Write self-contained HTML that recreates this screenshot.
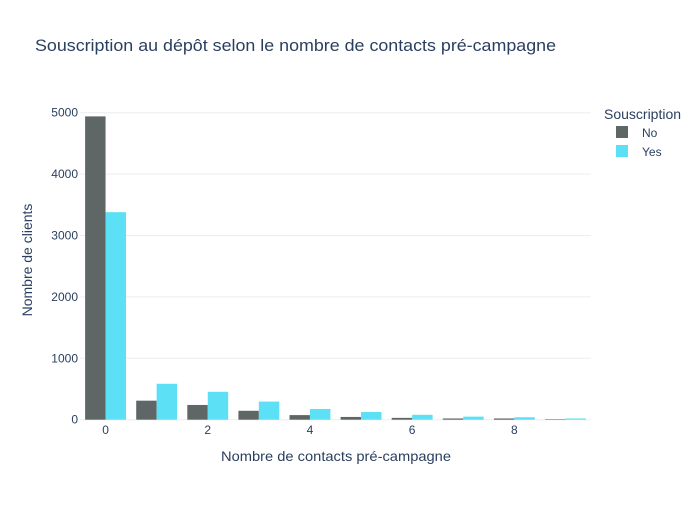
<!DOCTYPE html>
<html><head><meta charset="utf-8"><style>
body{margin:0;background:#fff;}
svg text{font-family:"Liberation Sans",sans-serif;fill:#2a3f5f;}
</style></head><body>
<svg id="chart" width="700" height="500">
<text x="35" y="51" font-size="17" textLength="521" lengthAdjust="spacingAndGlyphs">Souscription au dépôt selon le nombre de contacts pré-campagne</text>
<g id="grid"></g><g id="bars"></g><g id="axes"></g>
<text x="336" y="461" font-size="14" text-anchor="middle" textLength="230" lengthAdjust="spacingAndGlyphs">Nombre de contacts pré-campagne</text>
<text transform="translate(32,260) rotate(-90)" font-size="14" text-anchor="middle">Nombre de clients</text>
<g>
<text x="604" y="119" font-size="14">Souscription</text>
<g><rect x="616" y="126" width="12" height="12" fill="#5f6766"/><text x="642" y="137" font-size="12">No</text></g>
<g><rect x="616" y="145" width="12" height="12" fill="#5ce0f5"/><text x="642" y="156" font-size="12">Yes</text></g>
</g>
</svg>
<script>
const categories=[0,1,2,3,4,5,6,7,8,9];
const noValues=[4940,310,240,145,75,45,30,20,20,8];
const yesValues=[3380,585,455,295,175,125,80,50,40,20];
const yTicks=[0,1000,2000,3000,4000,5000];
const xTicks=[0,2,4,6,8];
const L=80,R=591,Y0=419.7,PER=0.0614;
const step=(R-L)/categories.length;
const xs=c=>L+(c+0.5)*step;
const ys=v=>Y0-v*PER;
const NS='http://www.w3.org/2000/svg';
function mk(tag,attrs,parent){const e=document.createElementNS(NS,tag);for(const k in attrs)e.setAttribute(k,attrs[k]);document.getElementById(parent).appendChild(e);return e;}
yTicks.forEach(t=>{
 const ln=mk('line',{x1:L,x2:R,y1:ys(t),y2:ys(t),stroke:'#ebedf0','stroke-width':1},'grid');
 
 
 const tx=mk('text',{x:L-2,y:ys(t)+4,'font-size':12,'text-anchor':'end'},'axes');
 tx.textContent=t;
 
 
});
xTicks.forEach(t=>{
 const tx=mk('text',{x:xs(t),y:434,'font-size':12,'text-anchor':'middle'},'axes');
 tx.textContent=t;
 
 
});
const bw=step*0.4;
categories.forEach((c,i)=>{
 const b1=mk('rect',{x:xs(c)-bw,y:ys(noValues[i]),width:bw,height:noValues[i]*PER,fill:'#5f6766'},'bars');
 
 
 const b2=mk('rect',{x:xs(c),y:ys(yesValues[i]),width:bw,height:yesValues[i]*PER,fill:'#5ce0f5'},'bars');
 
 
});
</script>
</body></html>
